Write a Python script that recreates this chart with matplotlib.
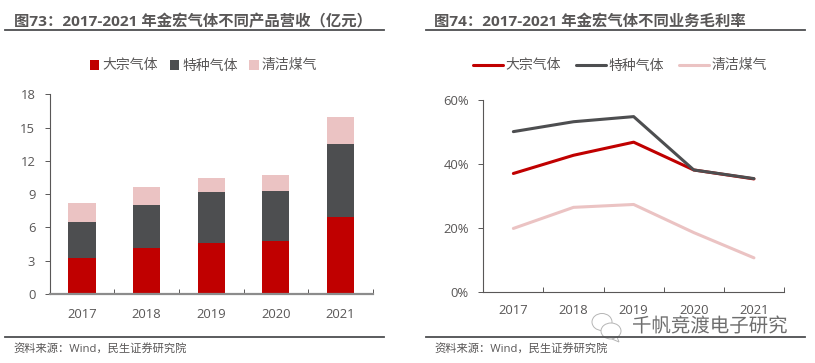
import matplotlib
matplotlib.use("Agg")
import matplotlib.pyplot as plt
import matplotlib.patheffects as pe
from matplotlib.lines import Line2D
from matplotlib.patches import Ellipse, Polygon
import numpy as np

plt.rcParams['font.family'] = ['Open Sans', 'Noto Sans CJK SC', 'DejaVu Sans']

# data
years = ["2017", "2018", "2019", "2020", "2021"]
series_names = ["大宗气体", "特种气体", "清洁煤气"]
revenue_bulk = [3.2, 4.15, 4.6, 4.75, 6.95]
revenue_special = [3.3, 3.85, 4.6, 4.5, 6.55]
revenue_coal = [1.7, 1.6, 1.3, 1.5, 2.45]
margin_bulk = [37.0, 42.7, 46.8, 38.1, 35.3]
margin_special = [50.1, 53.2, 54.8, 38.1, 35.4]
margin_coal = [19.8, 26.4, 27.3, 18.5, 10.6]
rev_ticks = [0, 3, 6, 9, 12, 15, 18]
margin_ticks = [0, 20, 40, 60]
title_left = "图73：2017-2021 年金宏气体不同产品营收（亿元）"
title_right = "图74：2017-2021 年金宏气体不同业务毛利率"
source = "资料来源：Wind，民生证券研究院"
watermark = "千帆竞渡电子研究"

RED = "#C00000"
DARK = "#4D4E50"
PINK = "#EBC3C3"
TEXT = "#595757"
W, H = 815, 363

fig = plt.figure(figsize=(W / 100, H / 100), dpi=100)


def px_axes(x0, x1, ytop, ybot):
    return fig.add_axes([x0 / W, 1 - ybot / H, (x1 - x0) / W, (ybot - ytop) / H])


def style_axes(ax, labels, ticks, tick_labels, bottom_color, bottom_width):
    n = len(labels)
    ax.set_xlim(-0.5, n - 0.5)
    ax.set_yticks(ticks)
    ax.set_yticklabels(tick_labels)
    ax.set_xticks(np.arange(n + 1) - 0.5)
    ax.set_xticklabels([])
    ax.set_xticks(np.arange(n), minor=True)
    ax.set_xticklabels(labels, minor=True)
    for s in ["top", "right"]:
        ax.spines[s].set_visible(False)
    ax.spines["left"].set_color("#595757")
    ax.spines["left"].set_linewidth(0.8)
    ax.spines["bottom"].set_color(bottom_color)
    ax.spines["bottom"].set_linewidth(bottom_width)
    ax.tick_params(axis="y", length=3.4, width=0.7, color="#595757", pad=7,
                   labelsize=9.4, labelcolor=TEXT)
    ax.tick_params(axis="x", which="major", direction="in", length=3.4, width=0.7,
                   color="#595757")
    ax.tick_params(axis="x", which="minor", length=0, pad=10, labelsize=9.4,
                   labelcolor=TEXT)


# left chart
ax1 = px_axes(49.7, 372.7, 94.3, 294)
x = np.arange(len(years))
bulk = np.array(revenue_bulk)
special = np.array(revenue_special)
coal = np.array(revenue_coal)
h1 = ax1.bar(x, bulk, 0.418, color=RED)
h2 = ax1.bar(x, special, 0.418, bottom=bulk, color=DARK)
h3 = ax1.bar(x, coal, 0.418, bottom=bulk + special, color=PINK)
ax1.set_ylim(0, 18)
style_axes(ax1, years, rev_ticks, [str(t) for t in rev_ticks], "#8C8C8C", 1.6)
fig.legend([h1, h2, h3], series_names, loc="center", bbox_to_anchor=(203.5 / W, 1 - 66 / H),
           ncol=3, frameon=False, fontsize=10, labelcolor=TEXT, handlelength=0.7,
           handleheight=0.7, handletextpad=0.2, columnspacing=0.85, borderpad=0,
           borderaxespad=0)

# right chart
ax2 = px_axes(483.3, 784, 100, 291.7)
l1, = ax2.plot(x, margin_bulk, color=RED, lw=2.2, solid_capstyle="round")
l2, = ax2.plot(x, margin_special, color=DARK, lw=2.2, solid_capstyle="round")
l3, = ax2.plot(x, margin_coal, color=PINK, lw=2.2, solid_capstyle="round")
ax2.set_ylim(0, 60)
style_axes(ax2, years, margin_ticks, ["%d%%" % t for t in margin_ticks], "#595757", 0.8)
ax2.tick_params(axis="x", which="minor", pad=8.5)
fig.legend([l1, l2, l3], series_names, loc="center", bbox_to_anchor=(620 / W, 1 - 66 / H),
           ncol=3, frameon=False, fontsize=10, labelcolor=TEXT, handlelength=2.15,
           handletextpad=0.2, columnspacing=1.05, borderpad=0, borderaxespad=0)

# headers, rules, sources
for x0, x1, title in [(5, 384, title_left), (426, 805, title_right)]:
    fig.text((x0 + 8.5) / W, 1 - 21 / H, title, fontsize=11.05, fontweight="bold",
             color=TEXT, va="center", ha="left")
    fig.add_artist(Line2D([x0 / W, x1 / W], [1 - 29.7 / H] * 2, color="#4D4E50", lw=1.3))
    fig.add_artist(Line2D([x0 / W, x1 / W], [1 - 336.7 / H] * 2, color="#4D4E50", lw=1.3))
    fig.text((x0 + 8.5) / W, 1 - 350 / H, source, fontsize=8.1, color=TEXT,
             va="center", ha="left")

# watermark
fig.text(632 / W, 1 - 326.5 / H, watermark, fontsize=14, color="#6E6E6E", va="center",
         ha="left", fontweight="light",
         path_effects=[pe.withStroke(linewidth=2, foreground="white")])
bubble_style = dict(facecolor="white", edgecolor="#B5B5B5", lw=0.7,
                    transform=fig.transFigure)
for cx, cy, bw, bh in [(602, 322, 20, 17), (611, 331, 20, 16)]:
    fig.add_artist(Ellipse((cx / W, 1 - cy / H), bw / W, bh / H, **bubble_style))
fig.add_artist(Polygon([(617 / W, 1 - 337 / H), (619 / W, 1 - 342 / H), (612 / W, 1 - 339 / H)],
                       **bubble_style))

fig.savefig("out.png", dpi=100)
